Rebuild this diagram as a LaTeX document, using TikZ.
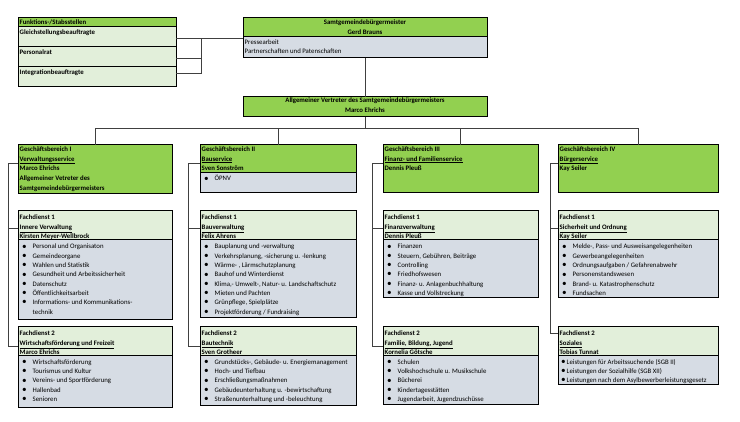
\documentclass[tikz,border=0pt]{standalone}
\usepackage{fontspec}
\setmainfont{Carlito}
\usetikzlibrary{calc}
\definecolor{gbgreen}{HTML}{92D050}
\definecolor{lgreen}{HTML}{E2EFDA}
\definecolor{lgrey}{HTML}{D6DCE4}
\definecolor{conn}{HTML}{404040}
\newcommand\bdot{\raisebox{-0.2pt}{\scalebox{1.35}{\textbullet}}}
\newcommand\bl{\makebox[10.5pt][l]{\bdot}}
\newcommand\bls{\makebox[5.5pt][l]{\bdot}}
\newcommand\ul[1]{\underline{#1}}
\newcommand\boxsect[6]{\node[sect, fill=#6, minimum width=#4pt, minimum height=#5pt] (#1) at (#2,#3) {};}
\tikzset{
  sect/.style={draw=black, line width=1pt, anchor=north west, inner sep=0pt, outer sep=0pt},
  txt/.style={anchor=north west, align=left, inner xsep=1.5pt, inner ysep=#1, font=\fontsize{6.8}{9.3}\selectfont},
  txt/.default=2pt,
  hd/.style={txt=#1, font=\fontsize{6.8}{9.5}\selectfont\bfseries},
  hd/.default=2pt,
  lst/.style={txt=#1, inner xsep=4pt},
  lst/.default=4pt,
  ln/.style={draw=conn, line width=0.7pt},
}
\begin{document}
\begin{tikzpicture}[x=1pt,y=-1pt]
\useasboundingbox[fill=white] (0,0) rectangle (740,422);

% Funktions-/Stabsstellen
\boxsect{fs}{18}{18}{158}{9}{gbgreen}
\node[hd=1.3pt] (fst) at (fs.north west) {Funktions-/Stabsstellen};
\boxsect{fs1}{18}{27}{158}{20}{lgreen}
\node[hd=2.4pt] (fs1t) at (fs1.north west) {Gleichstellungsbeauftragte};
\boxsect{fs2}{18}{47}{158}{20}{lgreen}
\node[hd=2.4pt] (fs2t) at (fs2.north west) {Personalrat};
\boxsect{fs3}{18}{67}{158}{20}{lgreen}
\node[hd=2.4pt] (fs3t) at (fs3.north west) {Integrationbeauftragte};

% Buergermeister
\boxsect{bm}{243}{18}{244}{19}{gbgreen}
\node[hd=1.8pt, align=center, anchor=north] (bmt) at (bm.north) {Samtgemeindebürgermeister\\Gerd Brauns};
\boxsect{bmg}{243}{37}{244}{21}{lgrey}
\node[txt=2.3pt] (bmgt) at (bmg.north west) {Pressearbeit\\Partnerschaften und Patenschaften};

% Vertreter
\boxsect{av}{243}{97}{244}{20}{gbgreen}
\node[hd=0.9pt, align=center, anchor=north] (avt) at (av.north) {Allgemeiner Vertreter des Samtgemeindebürgermeisters\\Marco Ehrichs};

% connectors top
\draw[ln] ($(fs1.north east)+(0,11)$) -- ($(bm.north west)+(0,20)$);
\draw[ln] ($(fs2.north east)+(0,11)$) -- ($(fs2.north east)+(25,11)$);
\draw[ln] ($(fs3.north east)+(0,6)$) -- ($(fs3.north east)+(25,6)$) -- ($(fs1.north east)+(25,11)$);
\draw[ln] (bmg.south) -- (av.north);

% Geschaeftsbereiche
\boxsect{gb1}{18}{145}{154}{49}{gbgreen}
\node[hd=1.3pt, font=\fontsize{6.8}{9.8}\selectfont\bfseries] (gb1t) at (gb1.north west) {Geschäftsbereich I\\\ul{Verwaltungsservice}\\Marco Ehrichs\\Allgemeiner Vetreter des\\Samtgemeindebürgermeisters};

\boxsect{gb2}{200}{145}{156}{28}{gbgreen}
\node[hd=1.3pt, font=\fontsize{6.8}{9.8}\selectfont\bfseries] (gb2t) at (gb2.north west) {Geschäftsbereich II\\\ul{Bauservice}\\Sven Sonström};
\boxsect{gb2l}{200}{173}{156}{20}{lgrey}
\node[lst=2.2pt] (gb2lt) at (gb2l.north west) {\bl ÖPNV};

\boxsect{gb3}{383}{145}{155}{48}{gbgreen}
\node[hd=1.3pt, font=\fontsize{6.8}{9.8}\selectfont\bfseries] (gb3t) at (gb3.north west) {Geschäftsbereich III\\\ul{Finanz- und Familienservice}\\Dennis Pleuß};

\boxsect{gb4}{558}{145}{160}{48}{gbgreen}
\node[hd=1.3pt, font=\fontsize{6.8}{9.8}\selectfont\bfseries] (gb4t) at (gb4.north west) {Geschäftsbereich IV\\\ul{Bürgerservice}\\Kay Seiler};

% bus
\coordinate (busy) at (0,128);
\draw[ln] (av.south) -- (av.south |- busy);
\draw[ln] (gb1.north) -- (gb1.north |- busy) -- (gb4.north |- busy) -- (gb4.north);
\draw[ln] (gb2.north) -- (gb2.north |- busy);
\draw[ln] (gb3.north) -- (gb3.north |- busy);

% Fachdienste column I
\boxsect{f11}{18}{211}{154}{29}{lgreen}
\node[hd=4pt] (f11t) at (f11.north west) {Fachdienst 1\\\ul{Innere Verwaltung}\\Kirsten Meyer-Wellbrock};
\boxsect{f11l}{18}{240}{154}{80}{lgrey}
\node[lst] (f11lt) at (f11l.north west) {\bl Personal und Organisaton\\\bl Gemeindeorgane\\\bl Wahlen und Statistik\\\bl Gesundheit und Arbeitssicherheit\\\bl Datenschutz\\\bl Öffentlichkeitsarbeit\\\bl Informations- und Kommunikations-\\\hspace*{10.5pt}technik};

\boxsect{f21}{18}{327}{154}{29}{lgreen}
\node[hd=4pt] (f21t) at (f21.north west) {Fachdienst 2\\\ul{Wirtschaftsförderung und Freizeit}\\Marco Ehrichs};
\boxsect{f21l}{18}{356}{154}{52}{lgrey}
\node[lst=3.3pt] (f21lt) at (f21l.north west) {\bl Wirtschaftsförderung\\\bl Tourismus und Kultur\\\bl Vereins- und Sportförderung\\\bl Hallenbad\\\bl Senioren};

% column II
\boxsect{f12}{200}{211}{156}{29}{lgreen}
\node[hd=4pt] (f12t) at (f12.north west) {Fachdienst 1\\\ul{Bauverwaltung}\\Felix Ahrens};
\boxsect{f12l}{200}{240}{156}{78}{lgrey}
\node[lst] (f12lt) at (f12l.north west) {\bl Bauplanung und -verwaltung\\\bl Verkehrsplanung, -sicherung u. -lenkung\\\bl Wärme- , Lärmschutzplanung\\\bl Bauhof und Winterdienst\\\bl Klima,- Umwelt-, Natur- u. Landschaftschutz\\\bl Mieten und Pachten\\\bl Grünpflege, Spielplätze\\\bl Projektförderung / Fundraising};

\boxsect{f22}{200}{327}{156}{29}{lgreen}
\node[hd=4pt] (f22t) at (f22.north west) {Fachdienst 2\\\ul{Bautechnik}\\Sven Grotheer};
\boxsect{f22l}{200}{356}{156}{50}{lgrey}
\node[lst=3.3pt] (f22lt) at (f22l.north west) {\bl Grundstücks-, Gebäude- u. Energiemanagement\\\bl Hoch- und Tiefbau\\\bl Erschließungsmaßnahmen\\\bl Gebäudeunterhaltung u. -bewirtschaftung\\\bl Straßenunterhaltung und -beleuchtung};

% column III
\boxsect{f13}{383}{211}{155}{29}{lgreen}
\node[hd=4pt] (f13t) at (f13.north west) {Fachdienst 1\\\ul{Finanzverwaltung}\\Dennis Pleuß};
\boxsect{f13l}{383}{240}{155}{58}{lgrey}
\node[lst] (f13lt) at (f13l.north west) {\bl Finanzen\\\bl Steuern, Gebühren, Beiträge\\\bl Controlling\\\bl Friedhofswesen\\\bl Finanz- u. Anlagenbuchhaltung\\\bl Kasse und Vollstreckung};

\boxsect{f23}{383}{327}{155}{29}{lgreen}
\node[hd=4pt] (f23t) at (f23.north west) {Fachdienst 2\\\ul{Familie, Bildung, Jugend}\\Kornelia Götsche};
\boxsect{f23l}{383}{356}{155}{49}{lgrey}
\node[lst=3.3pt] (f23lt) at (f23l.north west) {\bl Schulen\\\bl Volkshochschule u. Musikschule\\\bl Bücherei\\\bl Kindertagesstätten\\\bl Jugendarbeit, Jugendzuschüsse};

% column IV
\boxsect{f14}{558}{211}{160}{29}{lgreen}
\node[hd=4pt] (f14t) at (f14.north west) {Fachdienst 1\\\ul{Sicherheit und Ordnung}\\Kay Seiler};
\boxsect{f14l}{558}{240}{160}{58}{lgrey}
\node[lst] (f14lt) at (f14l.north west) {\bl Melde-, Pass- und Ausweisangelegenheiten\\\bl Gewerbeangelegenheiten\\\bl Ordnungsaufgaben / Gefahrenabwehr\\\bl Personenstandswesen\\\bl Brand- u. Katastrophenschutz\\\bl Fundsachen};

\boxsect{f24}{558}{327}{160}{29}{lgreen}
\node[hd=4pt] (f24t) at (f24.north west) {Fachdienst 2\\\ul{Soziales}\\Tobias Tunnat};
\boxsect{f24l}{558}{356}{160}{29}{lgrey}
\node[lst=2.9pt, inner xsep=3pt] (f24lt) at (f24l.north west) {\bls Leistungen für Arbeitssuchende (SGB II)\\\bls Leistungen der Sozialhilfe (SGB XII)\\\bls Leistungen nach dem Asylbewerberleistungsgesetz};

% column connectors
\draw[ln] ($(gb1.north west)+(0,18)$) -| ($(f21.north west)+(-10,19)$) -- ($(f21.north west)+(0,19)$);
\draw[ln] ($(f11.north west)+(-10,17)$) -- ($(f11.north west)+(0,17)$);
\draw[ln] ($(gb2.north west)+(0,18)$) -| ($(f22.north west)+(-12,19)$) -- ($(f22.north west)+(0,19)$);
\draw[ln] ($(f12.north west)+(-12,17)$) -- ($(f12.north west)+(0,17)$);
\draw[ln] ($(gb3.north west)+(0,18)$) -| ($(f23.north west)+(-11,19)$) -- ($(f23.north west)+(0,19)$);
\draw[ln] ($(f13.north west)+(-11,17)$) -- ($(f13.north west)+(0,17)$);
\draw[ln] ($(gb4.north west)+(0,18)$) -| ($(f24.north west)+(-8,6)$) -- ($(f24.north west)+(0,6)$);
\draw[ln] ($(f14.north west)+(-8,17)$) -- ($(f14.north west)+(0,17)$);
\end{tikzpicture}
\end{document}
